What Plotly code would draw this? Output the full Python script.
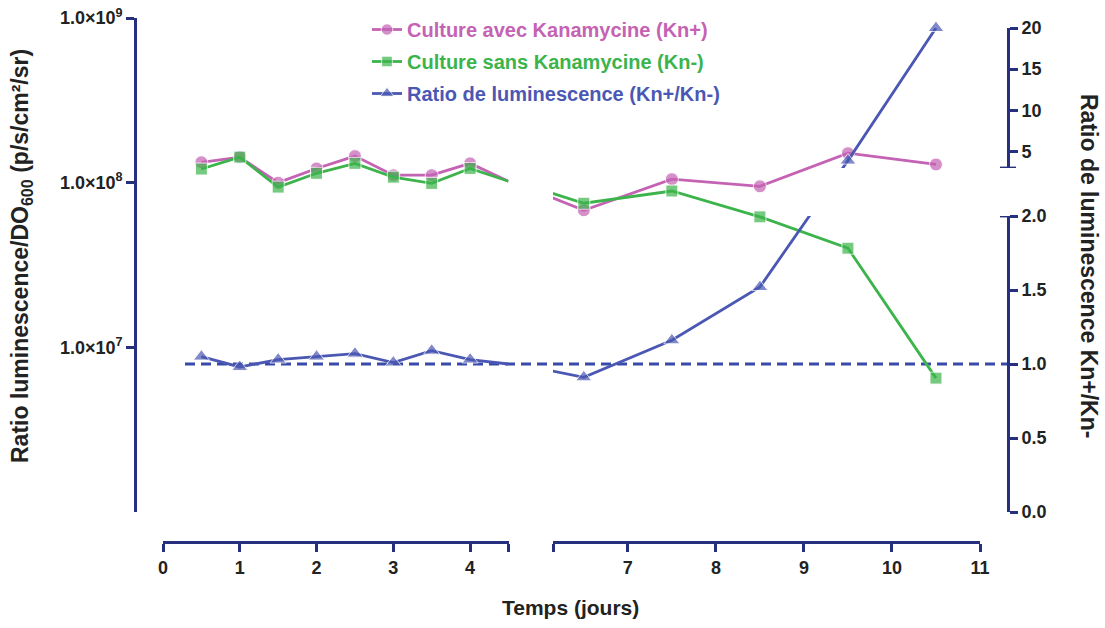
import plotly.graph_objects as go

# ---------------- data ----------------
days_a = [0.5, 1, 1.5, 2, 2.5, 3, 3.5, 4, 4.5]
kn_plus_a = [1.33e8, 1.43e8, 1.00e8, 1.22e8, 1.45e8, 1.11e8, 1.11e8, 1.31e8, 1.02e8]
kn_minus_a = [1.21e8, 1.43e8, 0.94e8, 1.14e8, 1.31e8, 1.08e8, 0.99e8, 1.22e8, 1.02e8]
ratio_a = [1.05, 0.98, 1.03, 1.05, 1.07, 1.01, 1.09, 1.03, 1.00]

days_b = [6.0, 6.5, 7.5, 8.5, 9.5, 10.5]
kn_plus_b = [8.7e7, 6.8e7, 1.05e8, 9.5e7, 1.51e8, 1.29e8]
kn_minus_b = [9.1e7, 7.5e7, 8.9e7, 6.2e7, 4.0e7, 6.5e6]
ratio_b = [0.97, 0.91, 1.16, 1.52, 3.9, 20.0]

hidden_days = [4.5, 6.0]   # points hidden by the axis break
reference_ratio = 1.0

x_ticks_a = [0, 1, 2, 3, 4]
x_ticks_b = [7, 8, 9, 10, 11]
lower_ticks = [0, 0.5, 1.0, 1.5, 2.0]
upper_ticks = [5, 10, 15, 20]
left_ticks = [1e7, 1e8, 1e9]
left_tick_text = ["1.0×10<sup>7</sup>", "1.0×10<sup>8</sup>", "1.0×10<sup>9</sup>"]

names = ["Culture avec Kanamycine (Kn+)", "Culture sans Kanamycine (Kn-)",
         "Ratio de luminescence (Kn+/Kn-)"]

# ---------------- style ----------------
W, H = 1105, 628
OFF = 0  # body margin removed via post_script
PINK = "#c462b4"
GREEN = "#3cb44b"
BLUE = "#4b58b3"
AXIS = "#27307e"
TXT = "#222222"
FONT = "Liberation Sans, Arial, sans-serif"

def fx(p):
    return (p - OFF) / W

def fy(p):
    return 1 - (p - OFF) / H

XA_RANGE = [0, 4.5]
XB_RANGE = [6.15, 11]
XA_DOM = [fx(163), fx(508.5)]
XB_DOM = [fx(553), fx(980)]
X_POS = fy(542)

LEFT_DOM = [fy(512), fy(18)]
LOWER_RANGE = [0, 2]
LOWER_DOM = [fy(512), fy(216)]
UPPER_RANGE = [3, 20]
UPPER_DOM = [fy(168), fy(28)]
RIGHT_X = 1008


def val_to_paper(v, rng, dom):
    return dom[0] + (v - rng[0]) / (rng[1] - rng[0]) * (dom[1] - dom[0])


def paper_to_val(p, rng, dom):
    return rng[0] + (p - dom[0]) / (dom[1] - dom[0]) * (rng[1] - rng[0])


def lower_equiv(v):
    if v <= LOWER_RANGE[1]:
        return v
    return paper_to_val(val_to_paper(v, UPPER_RANGE, UPPER_DOM), LOWER_RANGE, LOWER_DOM)


def upper_equiv(v):
    if v >= UPPER_RANGE[0]:
        return v
    return paper_to_val(val_to_paper(v, LOWER_RANGE, LOWER_DOM), UPPER_RANGE, UPPER_DOM)


def sizes(days, vals=None, lo=None, hi=None, base=13):
    out = []
    for i, d in enumerate(days):
        s = 0 if d in hidden_days else base
        if vals is not None and s:
            v = vals[i]
            if (lo is not None and v < lo) or (hi is not None and v > hi):
                s = 0
        out.append(s)
    return out


def leg(name, color):
    return f"<span style='color:{color}'>{name}</span>"


fig = go.Figure()

line_w = 2.8
common = dict(mode="lines+markers", cliponaxis=False)

# Kn+ and Kn- on the log axis
for (ya, yb, color, sym, nm, grp, ms) in [
    (kn_plus_a, kn_plus_b, PINK, "circle", names[0], "a", 13),
    (kn_minus_a, kn_minus_b, GREEN, "square", names[1], "b", 12),
]:
    fig.add_trace(go.Scatter(x=days_a, y=ya, xaxis="x", yaxis="y", name=leg(nm, color),
                             legendgroup=grp, showlegend=True,
                             line=dict(color=color, width=line_w),
                             marker=dict(symbol=sym, size=sizes(days_a, base=ms), color=color),
                             **common))
    fig.add_trace(go.Scatter(x=days_b, y=yb, xaxis="x2", yaxis="y", name=nm,
                             legendgroup=grp, showlegend=False,
                             line=dict(color=color, width=line_w),
                             marker=dict(symbol=sym, size=sizes(days_b, base=ms), color=color),
                             **common))

# Ratio on the broken right axis
ratio_a_low = [lower_equiv(v) for v in ratio_a]
ratio_b_low = [lower_equiv(v) for v in ratio_b]
ratio_b_up = [upper_equiv(v) for v in ratio_b]
TS = 14

fig.add_trace(go.Scatter(x=days_a, y=ratio_a_low, xaxis="x", yaxis="y2", name=leg(names[2], BLUE),
                         legendgroup="c", showlegend=True,
                         line=dict(color=BLUE, width=line_w),
                         marker=dict(symbol="triangle-up", size=sizes(days_a, ratio_a, hi=LOWER_RANGE[1], base=TS), color=BLUE),
                         **common))
fig.add_trace(go.Scatter(x=days_b, y=ratio_b_low, xaxis="x2", yaxis="y2", name=names[2],
                         legendgroup="c", showlegend=False,
                         line=dict(color=BLUE, width=line_w),
                         marker=dict(symbol="triangle-up", size=sizes(days_b, ratio_b, hi=LOWER_RANGE[1], base=TS), color=BLUE),
                         **common))
fig.add_trace(go.Scatter(x=days_b, y=ratio_b_up, xaxis="x2", yaxis="y3", name=names[2],
                         legendgroup="c", showlegend=False,
                         line=dict(color=BLUE, width=line_w),
                         marker=dict(symbol="triangle-up", size=sizes(days_b, ratio_b, lo=UPPER_RANGE[0], base=TS), color=BLUE),
                         **common))

# reference dashed line at ratio = 1
fig.add_shape(type="line", xref="paper", yref="y2", x0=fx(185), x1=fx(RIGHT_X),
              y0=reference_ratio, y1=reference_ratio,
              line=dict(color="#3a4aa8", width=2.8, dash="10px,6px"), layer="below")

# end caps of the broken right axis
for yref, val in [("y3", UPPER_RANGE[0]), ("y2", LOWER_RANGE[1])]:
    fig.add_shape(type="line", xref="paper", yref=yref, x0=fx(RIGHT_X - 8), x1=fx(RIGHT_X + 8),
                  y0=val, y1=val, line=dict(color=AXIS, width=2.8))

tickfont = dict(family=FONT, size=18, color=TXT, weight="bold")
axcommon = dict(showline=True, linecolor=AXIS, linewidth=2.8, ticks="outside", ticklen=8,
                tickwidth=2.8, tickcolor=AXIS, showgrid=False, zeroline=False,
                tickfont=tickfont, fixedrange=True, automargin=False,
                ticklabeloverflow="allow")

fig.update_layout(
    width=W, height=H,
    margin=dict(l=0, r=0, t=0, b=0, pad=0, autoexpand=False),
    paper_bgcolor="white", plot_bgcolor="rgba(0,0,0,0)",
    showlegend=True,
    legend=dict(x=fx(367), y=fy(10), xanchor="left", yanchor="top",
                bgcolor="rgba(0,0,0,0)", tracegroupgap=3,
                font=dict(family=FONT, size=20, weight="bold")),
    xaxis=dict(domain=XA_DOM, range=XA_RANGE, anchor="free", position=X_POS,
               tickvals=x_ticks_a + [XA_RANGE[1]],
               ticktext=[str(t) for t in x_ticks_a] + [""], **axcommon),
    xaxis2=dict(domain=XB_DOM, range=XB_RANGE, anchor="free", position=X_POS,
                tickvals=[XB_RANGE[0]] + x_ticks_b,
                ticktext=[""] + [str(t) for t in x_ticks_b], **axcommon),
    yaxis=dict(domain=LEFT_DOM, type="log", range=[6, 9], anchor="free", position=fx(135),
               tickvals=left_ticks, ticktext=left_tick_text, **axcommon),
    yaxis2=dict(domain=LOWER_DOM, range=LOWER_RANGE, anchor="free", position=fx(RIGHT_X), side="right",
                tickvals=lower_ticks, ticktext=[f"{t:.1f}" for t in lower_ticks], **axcommon),
    yaxis3=dict(domain=UPPER_DOM, range=UPPER_RANGE, anchor="free", position=fx(RIGHT_X), side="right",
                tickvals=upper_ticks, ticktext=[str(t) for t in upper_ticks], **axcommon),
)

fig.add_annotation(text="Ratio luminescence/DO<sub>600</sub> (p/s/cm²/sr)", xref="paper", yref="paper",
                   x=fx(21), y=fy(256), xanchor="center", yanchor="middle", textangle=-90,
                   showarrow=False, font=dict(family=FONT, size=23, color=TXT, weight="bold"))
fig.add_annotation(text="Ratio de luminescence Kn+/Kn-", xref="paper", yref="paper",
                   x=fx(1089), y=fy(266), xanchor="center", yanchor="middle", textangle=90,
                   showarrow=False, font=dict(family=FONT, size=23, color=TXT, weight="bold"))
fig.add_annotation(text="Temps (jours)", xref="paper", yref="paper",
                   x=fx(570), y=fy(607), xanchor="center", yanchor="middle",
                   showarrow=False, font=dict(family=FONT, size=21, color=TXT, weight="bold"))

fig.write_html("out.html", config={"displayModeBar": False},
               post_script="document.body.style.margin='0';document.body.style.overflow='hidden';")
